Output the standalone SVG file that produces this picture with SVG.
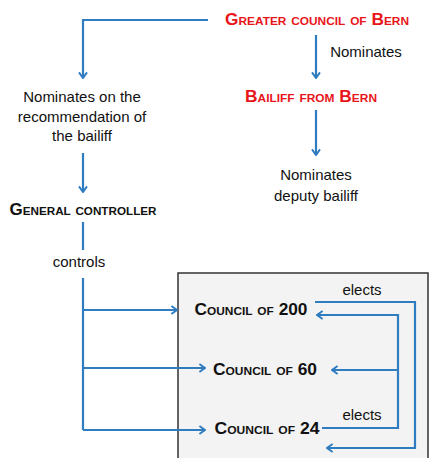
<svg xmlns="http://www.w3.org/2000/svg" width="431" height="458" viewBox="0 0 431 458">
<defs>
<marker id="ah" viewBox="0 0 10 12" refX="9" refY="6" markerWidth="8" markerHeight="10" orient="auto" markerUnits="userSpaceOnUse">
<path d="M2,1 L9,6 L2,11" fill="none" stroke="#2f7cc0" stroke-width="2.4"/>
</marker>
<style>
.t{font-family:"Liberation Sans",Arial,sans-serif;font-size:15px;fill:#111;text-anchor:middle}
.sc{font-family:"Liberation Sans",Arial,sans-serif;font-weight:bold;font-variant:small-caps;font-size:16px;text-anchor:middle}
.red{fill:#e8151b}
.blk{fill:#111}
.c{fill:none;stroke:#2f7cc0;stroke-width:2.2}
.c path{marker-end:url(#ah)}
</style>
</defs>
<rect width="431" height="458" fill="#fff"/>
<rect id="box" x="178" y="273" width="250" height="190" fill="#f3f3f3" stroke="#333" stroke-width="1.5"/>
<g id="connectors" class="c">
<path d="M208,20 H83 V78"/>
<path d="M316,35 V78"/>
<path d="M316,110 V155"/>
<path d="M83,153 V192"/>
<line x1="83" y1="222" x2="83" y2="250"/>
<line x1="83" y1="278" x2="83" y2="430"/>
<path d="M83,310 H177"/>
<path d="M83,368 H205"/>
<path d="M83,430 H205"/>
<path d="M315,302 H415 V448 H327"/>
<path d="M322,428 H398 V315 H317"/>
<path d="M398,370 H332"/>
</g>
<g id="greater-council"><text class="sc red" x="317" y="25" textLength="184" lengthAdjust="spacingAndGlyphs">Greater council of Bern</text></g>
<g id="label-nominates"><text class="t" x="366" y="57">Nominates</text></g>
<g id="bailiff"><text class="sc red" x="311" y="102" textLength="132" lengthAdjust="spacingAndGlyphs">Bailiff from Bern</text></g>
<g id="nominates-recommendation">
<text class="t" x="82" y="102">Nominates on the</text>
<text class="t" x="82" y="122">recommendation of</text>
<text class="t" x="82" y="141">the bailiff</text>
</g>
<g id="deputy">
<text class="t" x="316" y="180" font-size="17">Nominates</text>
<text class="t" x="316" y="201" font-size="17">deputy bailiff</text>
</g>
<g id="general-controller"><text class="sc blk" x="83" y="215" textLength="147" lengthAdjust="spacingAndGlyphs">General controller</text></g>
<g id="label-controls"><text class="t" x="79" y="267">controls</text></g>
<g id="council-200"><text class="sc blk" x="251" y="315" textLength="113" lengthAdjust="spacingAndGlyphs">Council of 200</text></g>
<g id="council-60"><text class="sc blk" x="265" y="375" textLength="104" lengthAdjust="spacingAndGlyphs">Council of 60</text></g>
<g id="council-24"><text class="sc blk" x="267" y="434" textLength="105" lengthAdjust="spacingAndGlyphs">Council of 24</text></g>
<g id="label-elects-1"><text class="t" x="362" y="295">elects</text></g>
<g id="label-elects-2"><text class="t" x="362" y="420">elects</text></g>
</svg>
